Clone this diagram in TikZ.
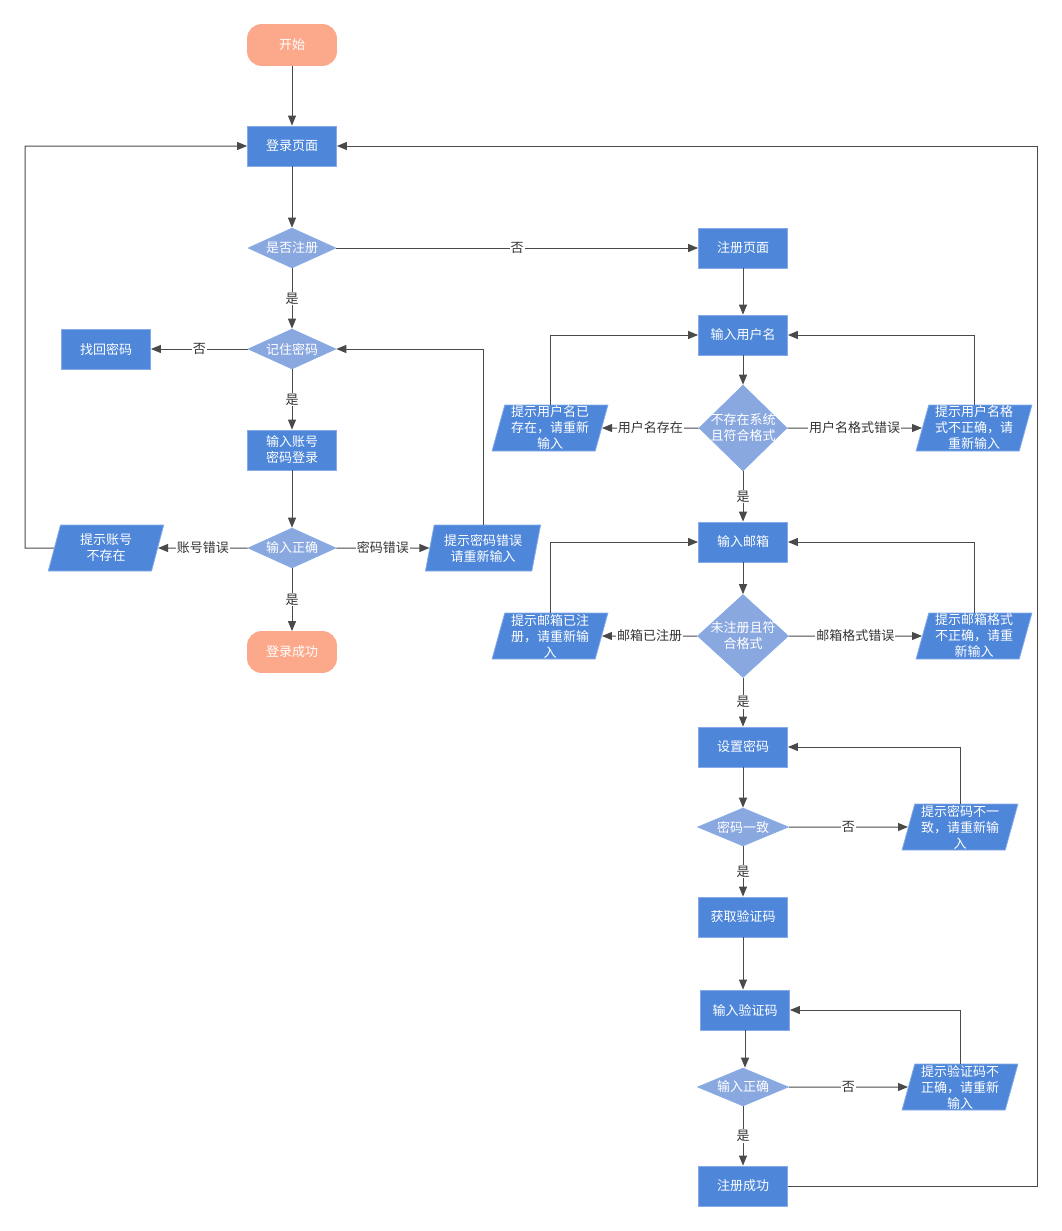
\documentclass[tikz,border=0pt]{standalone}
\usepackage{fontspec}
\setmainfont{Noto Sans CJK SC}
\usetikzlibrary{shapes.geometric,arrows.meta}
\definecolor{boxblue}{HTML}{4E86D9}
\definecolor{boxedge}{HTML}{86ABE8}
\definecolor{decblue}{HTML}{8AA8E0}
\definecolor{salmon}{HTML}{FCA98B}
\definecolor{linegray}{HTML}{4A4A4A}
\definecolor{labgray}{HTML}{333333}
\begin{document}
\begin{tikzpicture}[x=1pt,y=-1pt,
  font=\fontsize{13}{16}\selectfont,
  proc/.style={rectangle, fill=boxblue, draw=boxedge, line width=0.8pt,
    text=white, minimum width=89pt, minimum height=40pt, inner sep=0pt,
    align=center},
  term/.style={proc, fill=salmon, draw=salmon, rounded corners=14pt,
    minimum height=41pt},
  dlabel/.style={text=white, align=center, inner sep=0pt},
  decision/.style={diamond, fill=decblue, draw=boxedge, line width=0.6pt,
    inner sep=0pt, minimum width=88pt, minimum height=40pt,
    label={[dlabel]center:{#1}}},
  io/.style={trapezium, trapezium left angle=76, trapezium right angle=104,
    trapezium stretches=true, fill=boxblue, draw=boxedge, line width=0.8pt,
    minimum width=116pt, minimum height=46pt, inner sep=0pt, text=white,
    align=center},
  flow/.style={draw=linegray, line width=1pt,
    -{Triangle[length=10pt,width=8pt]}},
  elab/.style={fill=white, text=labgray, inner sep=1pt}]

\useasboundingbox (0,0) rectangle (1061,1231);

% ---- login branch ----
\node[term] (start) at (292,45) {开始};
\node[proc] (login) at (292,146) {登录页面};
\node[decision={是否注册}] (q1) at (292,248) {};
\node[decision={记住密码}] (q2) at (292,349) {};
\node[proc] (forgot) at (106,349) {找回密码};
\node[proc] (loginin) at (292,450) {输入账号\\密码登录};
\node[decision={输入正确}] (q3) at (292,548) {};
\node[io] (noacc) at (106,548) {提示账号\\不存在};
\node[io] (badpw) at (483,548) {提示密码错误\\请重新输入};
\node[term] (ok) at (292,652) {登录成功};

% ---- registration branch ----
\node[proc] (reg) at (743,248) {注册页面};
\node[proc] (uname) at (743,335) {输入用户名};
\node[decision={不存在系统\\且符合格式}, minimum height=86pt] (q4) at (743,428) {};
\node[io] (u1) at (550,428) {提示用户名已\\存在，请重新\\输入};
\node[io] (u2) at (974,428) {提示用户名格\\式不正确，请\\重新输入};
\node[proc] (email) at (743,542) {输入邮箱};
\node[decision={未注册且符\\合格式}, minimum width=91pt, minimum height=83pt] (q5) at (743,636) {};
\node[io] (e1) at (550,636) {提示邮箱已注\\册，请重新输\\入};
\node[io] (e2) at (974,636) {提示邮箱格式\\不正确，请重\\新输入};
\node[proc] (setpw) at (743,747) {设置密码};
\node[decision={密码一致}, minimum width=91pt, minimum height=38pt] (q6) at (743,827) {};
\node[io] (p1) at (960,827) {提示密码不一\\致，请重新输\\入};
\node[proc] (getcode) at (743,917) {获取验证码};
\node[proc] (code) at (745,1010) {输入验证码};
\node[decision={输入正确}, minimum width=91pt, minimum height=38pt] (q7) at (743,1087) {};
\node[io] (c1) at (960,1087) {提示验证码不\\正确，请重新\\输入};
\node[proc] (done) at (743,1186) {注册成功};

% corner points of the long return lines
\coordinate (cL) at (25,548);
\coordinate (cR) at (1037,146);

% ---- connectors: login ----
\draw[flow] (start) -- (login);
\draw[flow] (login) -- (q1);
\draw[flow] (q1) -- node[elab] {是} (q2);
\draw[flow] (q1.east) -- node[elab] {否} (reg.west);
\draw[flow] (q2.west) -- node[elab] {否} (forgot.east);
\draw[flow] (q2) -- node[elab] {是} (loginin);
\draw[flow] (loginin) -- (q3);
\draw[flow] (q3.west) -- node[elab] {账号错误} (noacc.east);
\draw[flow] (q3.east) -- node[elab] {密码错误} (badpw.west);
\draw[flow] (q3) -- node[elab] {是} (ok);
\draw[flow] (noacc.west) -- (cL) |- (login.west);
\draw[flow] (badpw.north) |- (q2.east);

% ---- connectors: registration ----
\draw[flow] (reg) -- (uname);
\draw[flow] (uname) -- (q4);
\draw[flow] (q4.west) -- node[elab] {用户名存在} (u1.east);
\draw[flow] (q4.east) -- node[elab] {用户名格式错误} (u2.west);
\draw[flow] (u1.north) |- (uname.west);
\draw[flow] (u2.north) |- (uname.east);
\draw[flow] (q4) -- node[elab] {是} (email);
\draw[flow] (email) -- (q5);
\draw[flow] (q5.west) -- node[elab] {邮箱已注册} (e1.east);
\draw[flow] (q5.east) -- node[elab] {邮箱格式错误} (e2.west);
\draw[flow] (e1.north) |- (email.west);
\draw[flow] (e2.north) |- (email.east);
\draw[flow] (q5) -- node[elab] {是} (setpw);
\draw[flow] (setpw) -- (q6);
\draw[flow] (q6.east) -- node[elab] {否} (p1.west);
\draw[flow] (p1.north) |- (setpw.east);
\draw[flow] (q6) -- node[elab] {是} (getcode);
\draw[flow] (getcode.south) -- (getcode.south |- code.north);
\draw[flow] (code.south) -- (code.south |- q7.north);
\draw[flow] (q7.east) -- node[elab] {否} (c1.west);
\draw[flow] (c1.north) |- (code.east);
\draw[flow] (q7) -- node[elab] {是} (done);
\draw[flow] (done.east) -| (cR) -- (login.east);
\end{tikzpicture}
\end{document}
